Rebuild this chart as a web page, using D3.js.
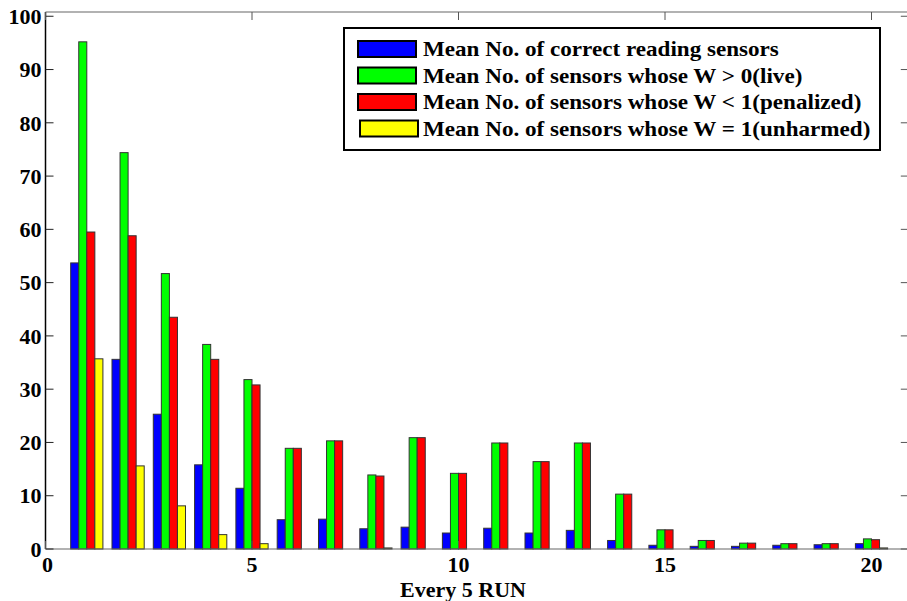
<!DOCTYPE html>
<html>
<head>
<meta charset="utf-8">
<script src="https://cdn.jsdelivr.net/npm/d3@7"></script>
<style>
  body { margin: 0; background: #fff; }
  text { font-family: "Liberation Serif", "Times New Roman", serif; font-weight: bold; fill: #000; }
</style>
</head>
<body>
<script>
// group index (every 5 runs)
const runs = d3.range(1, 21);

const correct   = [53.7, 35.6, 25.3, 15.8, 11.4, 5.5, 5.6, 3.8, 4.1, 3.0, 3.9, 3.0, 3.5, 1.6, 0.7, 0.5, 0.5, 0.7, 0.8, 1.0];
const live      = [95.2, 74.4, 51.7, 38.4, 31.8, 18.9, 20.3, 13.9, 20.9, 14.2, 19.9, 16.4, 19.9, 10.3, 3.6, 1.6, 1.1, 1.0, 1.0, 1.9];
const penalized = [59.5, 58.8, 43.5, 35.6, 30.8, 18.9, 20.3, 13.7, 20.9, 14.2, 19.9, 16.4, 19.9, 10.3, 3.6, 1.6, 1.1, 1.0, 1.0, 1.75];
const unharmed  = [35.7, 15.6, 8.1, 2.7, 1.0, 0, 0, 0.2, 0, 0, 0, 0, 0, 0, 0, 0, 0, 0, 0, 0.2];

const seriesNames = [
  "Mean No. of correct reading sensors",
  "Mean No. of sensors whose W > 0(live)",
  "Mean No. of sensors whose W < 1(penalized)",
  "Mean No. of sensors whose W = 1(unharmed)"
];
const colors = ["#0000ff", "#00ff00", "#ff0000", "#ffff00"];
const series = [correct, live, penalized, unharmed];

const xTicks = [0, 5, 10, 15, 20];
const yTicks = d3.range(0, 101, 10);

const width = 907, height = 601;

const svg = d3.select('body').append('svg')
  .attr('width', width)
  .attr('height', height);

const x = d3.scaleLinear().domain([0, 21]).range([45.5, 912.8]);
const y = d3.scaleLinear().domain([0, 100.8]).range([549, 12]);

// sub-bar position inside each group
const groupWidth = 0.78;
const sub = d3.scaleBand().domain(d3.range(4)).range([-groupWidth / 2, groupWidth / 2]).padding(0);

// bars
series.forEach((vals, si) => {
  svg.append('g').selectAll('rect')
    .data(vals.map((v, i) => ({ run: runs[i], v })))
    .enter().append('rect')
    .attr('x', d => x(d.run + sub(si)))
    .attr('width', d => x(d.run + sub(si) + sub.bandwidth()) - x(d.run + sub(si)))
    .attr('y', d => y(d.v))
    .attr('height', d => y(0) - y(d.v))
    .attr('fill', colors[si])
    .attr('stroke', '#333')
    .attr('stroke-width', 1)
    .style('display', d => d.v > 0 ? null : 'none');
});

// axes box: left, bottom, top (right border falls outside the picture)
const axisG = svg.append('g');
axisG.append('line').attr('x1', x(0)).attr('x2', x(0)).attr('y1', y(0)).attr('y2', 12)
  .attr('stroke', '#000').attr('stroke-width', 1.5);
axisG.append('line').attr('x1', x(0)).attr('x2', width).attr('y1', y(0)).attr('y2', y(0))
  .attr('stroke', '#666').attr('stroke-width', 1.2);
axisG.append('line').attr('x1', x(0)).attr('x2', width).attr('y1', 12).attr('y2', 12)
  .attr('stroke', '#666').attr('stroke-width', 1.2);

// y ticks (inward, left and right)
yTicks.forEach(t => {
  axisG.append('line').attr('x1', x(0)).attr('x2', x(0) + 8).attr('y1', y(t)).attr('y2', y(t))
    .attr('stroke', '#222');
  axisG.append('line').attr('x1', x(21) - 12).attr('x2', x(21)).attr('y1', y(t)).attr('y2', y(t))
    .attr('stroke', '#555');
  axisG.append('text')
    .attr('x', x(0) - 4)
    .attr('y', y(t))
    .attr('dy', '0.35em')
    .attr('text-anchor', 'end')
    .style('font-size', '22px')
    .text(t);
});

// x ticks (inward, bottom and top)
xTicks.forEach(t => {
  axisG.append('line').attr('x1', x(t)).attr('x2', x(t)).attr('y1', y(0)).attr('y2', y(0) - 8)
    .attr('stroke', '#555');
  axisG.append('line').attr('x1', x(t)).attr('x2', x(t)).attr('y1', 12).attr('y2', 20)
    .attr('stroke', '#555');
  axisG.append('text')
    .attr('x', x(t) + (t === 0 ? 2 : 0))
    .attr('y', 572)
    .attr('text-anchor', 'middle')
    .style('font-size', '22px')
    .text(t);
});

// x label
svg.append('text')
  .attr('x', 463)
  .attr('y', 597)
  .attr('text-anchor', 'middle')
  .style('font-size', '22px')
  .text('Every 5 RUN');

// legend
const legend = svg.append('g');
legend.append('rect')
  .attr('x', 344).attr('y', 28)
  .attr('width', 536).attr('height', 122)
  .attr('fill', '#fff')
  .attr('stroke', '#000')
  .attr('stroke-width', 2);

const rows = legend.selectAll('.row')
  .data(seriesNames)
  .enter().append('g')
  .attr('class', 'row')
  .attr('transform', (d, i) => `translate(0,${49 + i * 26.5})`);

rows.append('rect')
  .attr('x', (d, i) => 358 + (i === 3 ? 2 : 0))
  .attr('y', -8)
  .attr('width', 58)
  .attr('height', 16)
  .attr('fill', (d, i) => colors[i])
  .attr('stroke', '#000')
  .attr('stroke-width', 2);

// the original text is drawn a little wide, so stretch it horizontally
rows.append('text')
  .attr('x', 423)
  .attr('dy', '0.35em')
  .style('font-size', '21px')
  .text(d => d)
  .each(function () {
    const w = this.getComputedTextLength();
    d3.select(this).attr('textLength', w * 1.1).attr('lengthAdjust', 'spacingAndGlyphs');
  });
</script>
</body>
</html>
